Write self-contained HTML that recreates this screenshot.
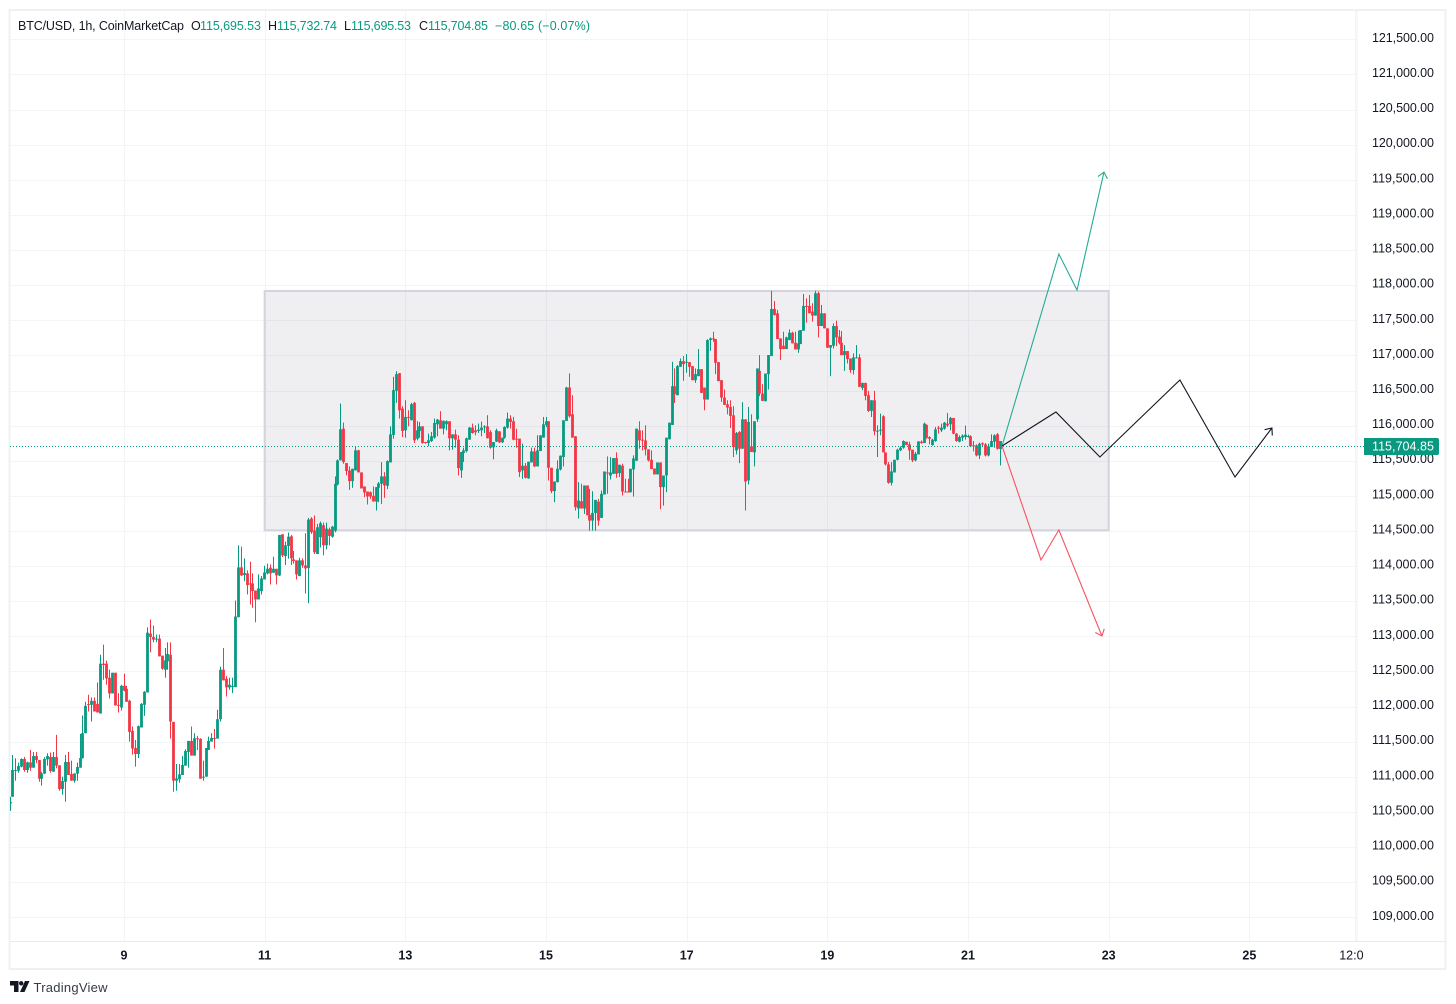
<!DOCTYPE html>
<html lang="en">
<head>
<meta charset="utf-8">
<title>BTC/USD 1h chart</title>
<style>
html,body{margin:0;padding:0;background:#fff;width:1456px;height:1004px;overflow:hidden}
svg{display:block;font-family:"Liberation Sans",sans-serif}
text{font-family:"Liberation Sans",sans-serif}
</style>
</head>
<body>
<svg id="chart" width="1456" height="1004" viewBox="0 0 1456 1004" xmlns="http://www.w3.org/2000/svg">
  <defs>
    <clipPath id="pane-clip"><rect x="10" y="11" width="1346.5" height="930"></rect></clipPath>
    <clipPath id="axis-clip"><rect x="10.5" y="942" width="1353.5" height="26"></rect></clipPath>
  </defs>
  <rect x="9.5" y="10" width="1436" height="959" fill="#fff" stroke="#eff0f3" stroke-width="2"></rect>
  <line x1="10" y1="941.5" x2="1445" y2="941.5" stroke="#e9eaef" stroke-width="1"></line>
  <line x1="1357" y1="11" x2="1357" y2="941" stroke="#f0f1f4" stroke-width="1"></line>
  <g id="grid" clip-path="url(#pane-clip)"></g>
  <g id="annotation-box" clip-path="url(#pane-clip)"></g>
  <g id="candles" clip-path="url(#pane-clip)"></g>
  <g id="price-line"></g>
  <g id="projections" clip-path="url(#pane-clip)"></g>
  <g id="price-axis"></g>
  <g id="time-axis" clip-path="url(#axis-clip)"></g>
  <g id="price-tag"></g>

  <g font-size="12.5" dominant-baseline="auto">
    <text x="18" y="30" fill="#131722" textLength="166" lengthAdjust="spacing">BTC/USD, 1h, CoinMarketCap</text>
    <text x="191" y="30" fill="#131722">O</text>
    <text x="200" y="30" fill="#089981" textLength="61" lengthAdjust="spacing">115,695.53</text>
    <text x="268" y="30" fill="#131722">H</text>
    <text x="277" y="30" fill="#089981" textLength="60" lengthAdjust="spacing">115,732.74</text>
    <text x="344" y="30" fill="#131722">L</text>
    <text x="351" y="30" fill="#089981" textLength="60" lengthAdjust="spacing">115,695.53</text>
    <text x="419" y="30" fill="#131722">C</text>
    <text x="428" y="30" fill="#089981" textLength="60" lengthAdjust="spacing">115,704.85</text>
    <text x="495" y="30" fill="#089981" textLength="95" lengthAdjust="spacing">−80.65 (−0.07%)</text>
  </g>

  <g>
    <g fill="#131722">
      <polygon points="10,981 18.5,981 18.5,992 14,992 14,985.5 10,985.5"></polygon>
      <circle cx="21.2" cy="983.3" r="2.2"></circle>
      <polygon points="25,981 29.5,981 24.5,992 20,992"></polygon>
    </g>
    <text x="33.5" y="992" font-size="13" fill="#363a45" textLength="74" lengthAdjust="spacing">TradingView</text>
  </g>
</svg>

<script>
const firstHour = -39;
const opens = [
110620,
110716,111087,111087,111145,111254,111097,111206,111130,111297,111240,
110973,111045,111249,111283,111073,111283,111164,110826,110930,111211,
111040,110945,111045,111130,111268,111621,112035,112025,112082,112039,
111901,112611,112611,112411,112187,112482,112025,111987,112296,112254,
112082,111654,111411,111325,111702,112025,112201,113039,112991,112963,
112968,112725,112525,112644,112739,111782,110945,110964,111026,111159,
111354,111511,111302,111549,111540,110997,111002,111383,111502,111554,
111544,111820,112525,112396,112273,112277,112277,113272,113982,113872,
113896,113753,113753,113653,113525,113644,113810,113896,113977,113905,
113962,113867,114453,114143,114286,114424,114096,114082,113858,114082,
114010,113972,114677,114505,114172,114410,114581,114296,114524,114419,
114505,115162,115505,115957,115467,115362,115210,115362,115648,115334,
115134,115062,115053,115000,114919,115115,115172,115277,115143,115476,
115867,116495,116747,116243,115933,116124,116076,116324,115814,115924,
115990,115767,115753,115781,115829,116019,116076,115957,116019,116062,
115819,115876,115800,115362,115610,115638,115800,115972,115933,115924,
115933,115981,115990,115910,115691,115772,115919,115762,115829,115972,
116100,116062,115814,115814,115362,115429,115248,115476,115633,115419,
115638,115829,116010,116062,115400,115067,115196,115376,115553,116067,
116543,116162,115848,114820,114924,114820,115148,114729,114648,114757,
114919,114686,115019,115333,115290,115314,115538,115324,115429,115062,
115062,115052,115376,115500,115933,115800,115790,115662,115514,115390,
115305,115476,115124,115290,115805,116009,116561,116433,116837,116918,
116895,116904,116847,116647,116704,116804,116542,116371,117218,117242,
117232,116904,116647,116399,116304,116266,116147,115647,115909,115671,
116090,115219,115705,115619,116090,116780,116457,116347,116733,116990,
117661,117599,117242,117137,117090,117218,117323,117180,117085,117161,
117351,117704,117704,117623,117566,117885,117418,117599,117385,117109,
117137,117418,117266,117180,117004,117061,116956,116790,116961,116971,
116537,116609,116433,116209,116361,115919,115928,116133,115619,115448,
115186,115333,115514,115648,115686,115771,115733,115657,115505,115590,
115771,115752,116009,115838,115724,115781,115971,115933,115957,116028,
116019,116109,115886,115771,115829,115838,115838,115848,115719,115719,
115576,115748,115733,115576,115695,115771,115876,115667
];
const highs = [
110716,
111311,111264,111202,111264,111283,111216,111383,111354,111354,111240,
111073,111278,111335,111345,111354,111597,111164,111002,111311,111354,
111230,111049,111202,111611,111873,112068,112168,112130,112130,112344,
112739,112882,112654,112525,112482,112482,112192,112311,112468,112296,
112097,111716,111525,111730,112049,112220,113129,113239,113153,113025,
113025,112725,112834,112915,112915,111782,111183,111183,111297,111392,
111511,111716,111621,111582,111549,111230,111411,111573,111621,111682,
111954,112568,112834,112435,112411,112411,113510,114296,114277,114110,
113939,114062,113896,113653,113882,113858,114005,114034,114024,114134,
113962,114443,114453,114348,114477,114443,114215,114082,114120,114110,
114467,114686,114696,114720,114601,114634,114619,114619,114548,114572,
115277,115519,116314,116043,115467,115419,115386,115705,115657,115334,
115134,115062,115062,115134,115124,115196,115481,115338,115505,115990,
116695,116776,116747,116276,116362,116219,116324,116338,116062,116052,
115990,115767,115886,115910,116100,116095,116205,116076,116076,116062,
115876,115943,115862,115624,115686,115829,115981,116029,116005,116029,
116057,116005,116148,115933,115767,115957,115919,115829,115990,116186,
116148,116124,115957,115814,115743,115467,115486,115686,115686,115862,
115862,116124,116124,116062,115400,115205,115505,115576,116076,116552,
116743,116433,115848,115196,115172,115148,115148,115100,115067,114943,
114957,115076,115347,115562,115552,115538,115619,115443,115457,115243,
115243,115386,115576,115957,116062,115933,116004,115662,115647,115390,
115476,115476,115290,115828,116042,116909,116814,116861,116956,116990,
117018,116904,116847,116814,117090,116804,116542,117228,117256,117337,
117232,116904,116647,116514,116361,116361,116276,115909,115923,116333,
116090,116266,116161,116062,116814,117004,116590,116742,117004,117918,
117775,117647,117242,117337,117266,117370,117337,117337,117351,117361,
117875,117813,117861,117742,117918,117908,117718,117599,117385,117147,
117456,117494,117361,117347,117147,117061,116956,117028,117147,117018,
116609,116609,116495,116361,116495,116004,116171,116147,115619,115481,
115481,115514,115671,115705,115790,115771,115771,115657,115624,115776,
115790,116043,116019,115848,115814,115981,115995,116028,116052,116181,
116124,116109,115895,115862,115876,116000,115871,115862,115781,115733,
115757,115762,115752,115743,115876,115876,115895,115781
];
const lows = [
110516,
110716,110945,111059,111135,111073,111059,111087,111130,111192,110930,
110873,111040,111159,111059,111073,111121,110802,110745,110645,111026,
110945,110916,110945,111130,111259,111621,111930,111787,111930,111916,
111901,112382,112311,112116,112187,112016,111916,111944,112216,112068,
111502,111316,111145,111268,111702,111868,112201,112772,112915,112915,
112715,112525,112411,112525,111544,110788,110802,110916,111026,111159,
111130,111302,111302,111383,110973,110945,111002,111383,111502,111402,
111544,111787,112373,112144,112239,112192,112277,113272,113858,113786,
113596,113453,113406,113201,113525,113596,113810,113882,113739,113905,
113739,113858,114129,114015,114105,114015,114034,113810,113858,113977,
113610,113472,114458,114172,114172,114267,114153,114239,114296,114405,
114482,115148,115505,115457,115291,115086,115115,115362,115334,115105,
114981,114877,114958,114919,114791,114910,114886,114972,115096,115476,
115814,116324,116100,115838,115829,115990,116076,115753,115791,115829,
115743,115743,115705,115767,115814,115848,115957,115876,115933,115648,
115657,115686,115291,115257,115481,115619,115800,115886,115862,115895,
115848,115895,115819,115672,115519,115767,115753,115753,115814,115957,
115957,115791,115686,115267,115243,115248,115243,115476,115410,115419,
115638,115829,115981,115219,115038,114910,115191,115362,115419,116067,
116114,115829,114791,114677,114820,114743,114724,114505,114505,114505,
114576,114686,115019,115029,115233,115314,115257,115267,115005,115048,
115048,115048,114990,115495,115671,115647,115576,115490,115381,115305,
115305,114810,114862,115052,115805,116009,116323,116433,116837,116638,
116752,116695,116647,116609,116704,116466,116219,116371,117066,117194,
116733,116633,116338,116295,116161,115966,115552,115590,115466,115671,
114791,115162,115624,115419,116052,116419,116352,116347,116514,116990,
117566,117232,116933,117090,117090,117218,117171,117085,117037,117161,
117351,117466,117599,117480,117566,117256,117418,117385,117109,116704,
117099,117132,117156,117004,116780,116885,116752,116728,116961,116552,
116504,116361,116195,116123,115862,115552,115862,115619,115433,115172,
115148,115333,115505,115638,115671,115719,115514,115481,115491,115590,
115743,115752,115814,115733,115714,115771,115886,115909,115943,115981,
115933,115876,115771,115762,115781,115800,115829,115695,115633,115562,
115524,115695,115562,115562,115695,115686,115657,115433
];
const closes = [
110640,
111097,111097,111154,111254,111097,111206,111130,111297,111240,110973,
111049,111254,111297,111083,111283,111159,110826,110940,111211,111026,
110945,111049,111140,111268,111621,112011,112025,112082,111930,111916,
112611,112592,112401,112187,112482,112016,112016,112296,112225,112068,
111640,111402,111325,111721,112039,112211,113053,112991,112953,112968,
112715,112539,112658,112749,111787,110945,110978,111035,111168,111368,
111511,111302,111549,111535,110973,111002,111411,111511,111554,111544,
111820,112525,112373,112273,112311,112296,113282,113982,113867,113901,
113729,113739,113644,113525,113682,113825,113910,113962,113896,113962,
113867,114443,114153,114296,114419,114110,114072,113882,114082,114010,
113967,114662,114482,114196,114553,114610,114296,114534,114429,114562,
115172,115505,115948,115481,115353,115210,115386,115648,115334,115105,
115048,114991,114991,114919,115124,115177,115277,115148,115495,115876,
116505,116733,116219,115924,116124,116114,116305,115791,115933,115990,
115753,115753,115791,115848,116038,116086,115957,116067,116062,115819,
115876,115800,115395,115624,115648,115819,115972,115895,115905,115943,
115972,115990,115819,115686,115767,115933,115762,115829,115981,116100,
116052,115800,115800,115338,115429,115257,115486,115633,115419,115648,
115862,116019,116062,115400,115067,115205,115386,115572,116076,116543,
116133,115829,114839,114934,114820,115148,114724,114648,114757,114943,
114648,115029,115347,115324,115333,115538,115314,115443,115062,115048,
115052,115386,115533,115957,115790,115790,115662,115505,115381,115305,
115476,115124,115290,115828,116042,116561,116447,116847,116918,116875,
116909,116837,116647,116733,116804,116466,116371,117218,117242,117232,
116895,116633,116399,116295,116257,116138,115695,115895,115671,116090,
115205,116052,115624,116062,116814,116457,116352,116742,117004,117661,
117575,117232,117090,117090,117256,117323,117171,117085,117171,117361,
117704,117694,117599,117566,117885,117418,117599,117385,117109,117147,
117418,117256,117180,117004,117061,116947,116790,116971,116971,116552,
116609,116423,116209,116361,115919,115928,115943,115619,115448,115186,
115348,115514,115657,115686,115781,115724,115648,115505,115600,115776,
115752,116028,115824,115814,115800,115947,115957,115971,116043,116004,
116109,115886,115781,115838,115857,115871,115852,115705,115705,115576,
115743,115733,115576,115705,115781,115862,115671,115781
];

const priceTicks = [121500,121000,120500,120000,119500,119000,118500,118000,117500,117000,116500,116000,115500,115000,114500,114000,113500,113000,112500,112000,111500,111000,110500,110000,109500,109000];
const timeTickHours = [0,48,96,144,192,240,288,336,384,420];
const timeTickLabels = ['9','11','13','15','17','19','21','23','25','12:00'];
const lastPrice = 115704.85;
const lastPriceLabel = '115,704.85';

const rangeBoxHours = [48,336];
const rangeBoxPrices = [117917,114510];

const bullPathHours = [299.6,319,325.2,334.4];
const bullPathPrices = [115710,118443,117931,119610];
const basePathHours = [299.6,318,333,360.3,379.1,391.7];
const basePathPrices = [115710,116194,115553,116650,115269,115966];
const bearPathHours = [299.6,312.9,319,333.7];
const bearPathPrices = [115710,114087,114514,113005];

const NS = 'http://www.w3.org/2000/svg';
const UP = '#089981';
const DOWN = '#f23645';

function xOf(hour) { return 124 + 2.9306 * hour; }
function yOf(price) { return 39.3 + (121500 - price) * 0.07024; }
function make(tag, parent, attrs) {
  const el = document.createElementNS(NS, tag);
  for (const k in attrs) el.setAttribute(k, attrs[k]);
  parent.appendChild(el);
  return el;
}
function formatPrice(p) {
  return p.toLocaleString('en-US', {minimumFractionDigits: 2, maximumFractionDigits: 2});
}

/* grid */
const gridG = document.getElementById('grid');
priceTicks.forEach(function (p) {
  const y = Math.round(yOf(p)) + 0.5;
  const el = make('line', gridG, {x1: 10, x2: 1357, y1: y, y2: y, stroke: '#f3f4f6', 'stroke-width': 1});
  
  
});
timeTickHours.forEach(function (h) {
  const x = Math.round(xOf(h)) + 0.5;
  const el = make('line', gridG, {x1: x, x2: x, y1: 11, y2: 941, stroke: '#f3f4f6', 'stroke-width': 1});
  
  
});

/* range box */
const boxG = document.getElementById('annotation-box');
const boxX = xOf(rangeBoxHours[0]);
const boxY = yOf(rangeBoxPrices[0]);
const boxEl = make('rect', boxG, {
  x: boxX, y: boxY,
  width: xOf(rangeBoxHours[1]) - boxX,
  height: yOf(rangeBoxPrices[1]) - boxY,
  fill: 'rgba(110,110,140,0.11)', stroke: '#d3d4de', 'stroke-width': 2
});



/* candles */
const candleG = document.getElementById('candles');
opens.forEach(function (open, i) {
  const close = closes[i];
  const color = close >= open ? UP : DOWN;
  const x = Math.max(10.5, Math.floor(xOf(firstHour + i)) + 0.5);
  const top = yOf(Math.max(open, close));
  const bottom = yOf(Math.min(open, close));
  const wick = make('rect', candleG, {
    x: x - 0.5, width: 1,
    y: yOf(highs[i]), height: yOf(lows[i]) - yOf(highs[i]),
    fill: color
  });
  
  
  const body = make('rect', candleG, {
    x: x - 1.4, width: 2.8,
    y: top, height: Math.max(bottom - top, 1),
    fill: color
  });
  
  
});

/* last price line */
const lineY = Math.round(yOf(lastPrice)) + 0.5;
const priceLine = make('line', document.getElementById('price-line'), {
  x1: 10, x2: 1364, y1: lineY, y2: lineY,
  stroke: UP, 'stroke-width': 1, 'stroke-dasharray': '1 2'
});



/* projection paths */
const projG = document.getElementById('projections');
function drawPath(hours, prices, color, name) {
  const pts = hours.map(function (h, i) { return [xOf(h), yOf(prices[i])]; });
  const line = make('polyline', projG, {
    points: pts.map(function (p) { return p[0] + ',' + p[1]; }).join(' '),
    fill: 'none', stroke: color, 'stroke-width': 1.1, 'stroke-linejoin': 'miter'
  });
  
  
  const tip = pts[pts.length - 1];
  const prev = pts[pts.length - 2];
  const ang = Math.atan2(tip[1] - prev[1], tip[0] - prev[0]);
  const len = 7.5;
  const a1 = ang + Math.PI - 0.7;
  const a2 = ang + Math.PI + 0.7;
  const head = make('polyline', projG, {
    points: (tip[0] + len * Math.cos(a1)) + ',' + (tip[1] + len * Math.sin(a1)) + ' ' +
            tip[0] + ',' + tip[1] + ' ' +
            (tip[0] + len * Math.cos(a2)) + ',' + (tip[1] + len * Math.sin(a2)),
    fill: 'none', stroke: color, 'stroke-width': 1.1
  });
  
  
}
drawPath(bullPathHours, bullPathPrices, '#22ab94', 'bullish-projection');
drawPath(basePathHours, basePathPrices, '#131722', 'neutral-projection');
drawPath(bearPathHours, bearPathPrices, '#f7525f', 'bearish-projection');

/* price axis */
const priceAxisG = document.getElementById('price-axis');
priceTicks.forEach(function (p) {
  const t = make('text', priceAxisG, {x: 1372, y: yOf(p) + 2.5, 'font-size': 12.5, fill: '#131722', textLength: 62, lengthAdjust: 'spacing'});
  t.textContent = formatPrice(p);
  
  
});

/* time axis */
const timeAxisG = document.getElementById('time-axis');
timeTickHours.forEach(function (h, i) {
  const label = timeTickLabels[i];
  const isTime = label.indexOf(':') >= 0;
  const t = make('text', timeAxisG, {
    x: xOf(h), y: 959.5, 'text-anchor': 'middle', 'font-size': 12.5,
    'font-weight': isTime ? 'normal' : 'bold', fill: '#131722'
  });
  t.textContent = label;
  
  
});

/* price tag */
const tagG = document.getElementById('price-tag');
const tag = make('path', tagG, {
  d: 'M1364 ' + (lineY - 8.5) + 'H1437a2 2 0 0 1 2 2V' + (lineY + 6.5) + 'a2 2 0 0 1 -2 2H1364Z',
  fill: UP
});


const tagText = make('text', tagG, {x: 1372, y: lineY + 4, 'font-size': 12.5, fill: '#ffffff', textLength: 62, lengthAdjust: 'spacing'});
tagText.textContent = lastPriceLabel;


</script>
</body>
</html>
